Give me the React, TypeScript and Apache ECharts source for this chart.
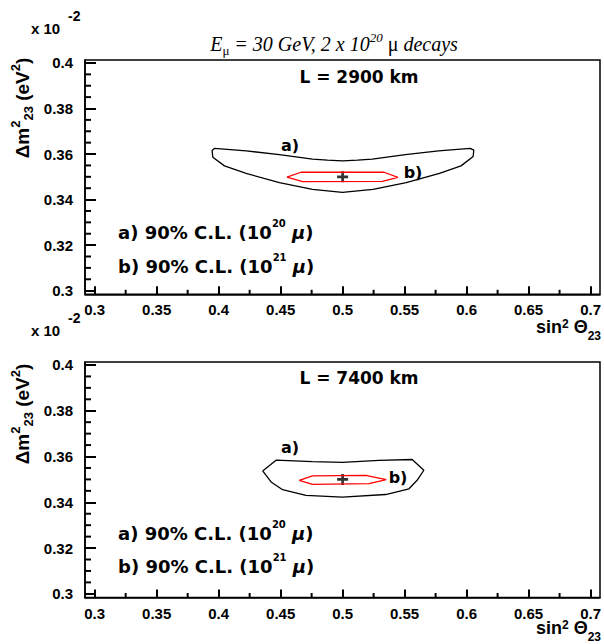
import React, { useEffect, useRef } from "react";
import * as echarts from "echarts";

// ---- data ----
const xMajorTicks = [0.3, 0.35, 0.4, 0.45, 0.5, 0.55, 0.6, 0.65, 0.7];
const xMinorTicks = [0.325, 0.375, 0.425, 0.475, 0.525, 0.575, 0.625, 0.675];
const yMajorTicks = [0.3, 0.32, 0.34, 0.36, 0.38, 0.4];
const yMinorTicks = [0.305, 0.31, 0.315, 0.325, 0.33, 0.335, 0.345, 0.35, 0.355, 0.365, 0.37, 0.375, 0.385, 0.39, 0.395];

const bestFit: [number, number][] = [[0.5, 0.35]];

// L = 2900 km
const contourA2900: [number, number][] = [
  [0.3967, 0.3625], [0.4222, 0.3614], [0.449, 0.3597], [0.4757, 0.3578], [0.4878, 0.3573],
  [0.4998, 0.357], [0.5119, 0.3573], [0.524, 0.3578], [0.5506, 0.3597], [0.5774, 0.3614],
  [0.6029, 0.3625], [0.6058, 0.3617], [0.6053, 0.3589], [0.5955, 0.3548], [0.5781, 0.3515],
  [0.5513, 0.3474], [0.5245, 0.3445], [0.4998, 0.3432], [0.4757, 0.3445], [0.449, 0.3474],
  [0.4222, 0.3515], [0.4047, 0.3548], [0.3953, 0.3586], [0.3947, 0.3616], [0.3967, 0.3625],
];
const contourB2900: [number, number][] = [
  [0.4551, 0.3499], [0.4664, 0.352], [0.5334, 0.352], [0.5446, 0.3498],
  [0.532, 0.348], [0.4677, 0.3479], [0.4551, 0.3499],
];

// L = 7400 km
const contourA7400: [number, number][] = [
  [0.4355, 0.3537], [0.4463, 0.3584], [0.4757, 0.3578], [0.4998, 0.3574], [0.5293, 0.3583],
  [0.5561, 0.3587], [0.5655, 0.354], [0.5601, 0.3496], [0.5535, 0.3459], [0.5347, 0.3434],
  [0.4998, 0.3423], [0.4704, 0.343], [0.4516, 0.3455], [0.4423, 0.3489], [0.4355, 0.3537],
];
const contourB7400: [number, number][] = [
  [0.465, 0.3496], [0.4757, 0.3515], [0.5186, 0.3518], [0.5352, 0.3499],
  [0.5213, 0.3482], [0.4757, 0.3478], [0.465, 0.3496],
];

const panelLabels = ["L = 2900 km", "L = 7400 km"];

// ---- layout ----
const X_MIN = 0.2922;
const X_MAX = 0.7076;
const Y_MIN = 0.2984;
const Y_MAX = 0.4013;
const GRIDS = [
  { left: 85, top: 60, width: 517, height: 234.3 },
  { left: 85, top: 362, width: 517, height: 235.5 },
];

const AX_FONT = "Liberation Sans, Arial, Helvetica, sans-serif";
const LEG_FONT = "DejaVu Sans, sans-serif";
const SERIF = "Liberation Serif, Times New Roman, serif";
const TICK = "#000";
const TICK_W = 2;

const fmt = (v: number) => String(Math.round(v * 1000) / 1000);

export default function App() {
  const ref = useRef<HTMLDivElement>(null);
  useEffect(() => {
    if (!ref.current) return;
    const chart = echarts.init(ref.current, null, { renderer: "svg" });

    const xAxes: any[] = [];
    const yAxes: any[] = [];
    GRIDS.forEach((_, gi) => {
      xAxes.push({
        type: "value", gridIndex: gi, min: X_MIN, max: X_MAX,
        axisLine: { show: true, onZero: false, lineStyle: { color: "#000", width: 1.5 } },
        axisTick: { show: true, inside: true, length: 8, customValues: xMajorTicks, lineStyle: { color: TICK, width: TICK_W } },
        axisLabel: {
          show: true, customValues: xMajorTicks, formatter: (v: number) => fmt(v), margin: 8,
          color: "#000", fontFamily: AX_FONT, fontWeight: "bold", fontSize: 15,
        },
        splitLine: { show: false },
      });
      yAxes.push({
        type: "value", gridIndex: gi, min: Y_MIN, max: Y_MAX,
        axisLine: { show: true, onZero: false, lineStyle: { color: "#000", width: 1.5 } },
        axisTick: { show: true, inside: true, length: 11, customValues: yMajorTicks, lineStyle: { color: TICK, width: TICK_W } },
        axisLabel: {
          show: true, customValues: yMajorTicks, formatter: (v: number) => fmt(v), margin: 12,
          color: "#000", fontFamily: AX_FONT, fontWeight: "bold", fontSize: 15,
        },
        splitLine: { show: false },
      });
    });

    const contourSeries = (data: [number, number][], gi: number, color: string) => ({
      type: "line", xAxisIndex: gi, yAxisIndex: gi, data,
      showSymbol: false, symbol: "none", smooth: false,
      lineStyle: { color, width: 1.3 }, silent: true,
    });
    const plusSeries = (gi: number) => ({
      type: "scatter", xAxisIndex: gi, yAxisIndex: gi, data: bestFit,
      symbol: "path://M3.8,0H6.2V3.8H10V6.2H6.2V10H3.8V6.2H0V3.8H3.8Z", symbolSize: 11,
      itemStyle: { color: "#000" }, silent: true,
    });
    // minor ticks drawn through the axes' own scales
    const minorX = (gi: number) => ({
      type: "custom", xAxisIndex: gi, yAxisIndex: gi, clip: false, silent: true,
      data: xMinorTicks.map((v) => [v, Y_MIN]),
      renderItem: (_p: any, api: any) => {
        const pt = api.coord([api.value(0), Y_MIN]);
        return { type: "line", shape: { x1: pt[0], y1: pt[1], x2: pt[0], y2: pt[1] - 4.5 }, style: { stroke: TICK, lineWidth: TICK_W } };
      },
    });
    const minorY = (gi: number) => ({
      type: "custom", xAxisIndex: gi, yAxisIndex: gi, clip: false, silent: true,
      data: yMinorTicks.map((v) => [X_MIN, v]),
      renderItem: (_p: any, api: any) => {
        const pt = api.coord([X_MIN, api.value(1)]);
        return { type: "line", shape: { x1: pt[0], y1: pt[1], x2: pt[0] + 6, y2: pt[1] }, style: { stroke: TICK, lineWidth: TICK_W } };
      },
    });

    const leg = (y: number, exp: string, letter: string) => ({
      type: "text", left: 118, top: y - 12,
      style: {
        text: `{n|${letter}) 90% C.L. (10}{s|${exp}}{n| }{m|μ}{n|)}`,
        rich: {
          n: { fontFamily: LEG_FONT, fontWeight: "bold", fontSize: 18, fill: "#000", lineHeight: 23, verticalAlign: "bottom" },
          s: { fontFamily: LEG_FONT, fontWeight: "bold", fontSize: 10, fill: "#000", lineHeight: 12, verticalAlign: "top" },
          m: { fontFamily: LEG_FONT, fontWeight: "bold", fontStyle: "italic", fontSize: 18, fill: "#000", lineHeight: 23, verticalAlign: "bottom" },
        },
      },
    });
    const simpleText = (x: number, y: number, text: string, size = 17) => ({
      type: "text", x, y,
      style: { text, fontFamily: LEG_FONT, fontWeight: "bold", fontSize: size, fill: "#000", align: "center", verticalAlign: "middle" },
    });
    const x10 = (y: number) => [
      { type: "text", x: 31, y: y, style: { text: "x 10", fontFamily: AX_FONT, fontWeight: "bold", fontSize: 15, fill: "#000", align: "left", verticalAlign: "middle" } },
      { type: "text", x: 68, y: y - 12, style: { text: "-2", fontFamily: AX_FONT, fontWeight: "bold", fontSize: 14, fill: "#000", align: "left", verticalAlign: "middle" } },
    ];
    const xName = (yBase: number) => ({
      type: "text", x: 601, y: yBase,
      style: {
        text: "{n|sin}{s|2}{n| Θ}{b|23}",
        align: "right", verticalAlign: "bottom",
        rich: {
          n: { fontFamily: AX_FONT, fontWeight: "bold", fontSize: 18, fill: "#000", lineHeight: 24, verticalAlign: "top" },
          s: { fontFamily: AX_FONT, fontWeight: "bold", fontSize: 12, fill: "#000", lineHeight: 12, verticalAlign: "top" },
          b: { fontFamily: AX_FONT, fontWeight: "bold", fontSize: 12, fill: "#000", lineHeight: 12, verticalAlign: "bottom" },
        },
      },
    });
    const yName = (cy: number) => ({
      type: "text", x: 22, y: cy, rotation: Math.PI / 2,
      style: {
        text: "{n|Δm}{s|2}{b|23}{n| (eV}{s|2}{n|)}",
        align: "center", verticalAlign: "middle",
        rich: {
          n: { fontFamily: AX_FONT, fontWeight: "bold", fontSize: 19, fill: "#000", lineHeight: 26, verticalAlign: "middle" },
          s: { fontFamily: AX_FONT, fontWeight: "bold", fontSize: 13, fill: "#000", lineHeight: 13, verticalAlign: "top" },
          b: { fontFamily: AX_FONT, fontWeight: "bold", fontSize: 13, fill: "#000", lineHeight: 13, verticalAlign: "bottom" },
        },
      },
    });
    const title = {
      type: "text", x: 334, y: 44,
      style: {
        text: "{i|E}{b|μ}{i| = 30 GeV, 2 x 10}{s|20}{u| μ }{i|decays}",
        align: "center", verticalAlign: "middle",
        rich: {
          i: { fontFamily: SERIF, fontStyle: "italic", fontSize: 20, fill: "#000", lineHeight: 26, verticalAlign: "middle" },
          u: { fontFamily: SERIF, fontSize: 20, fill: "#000", lineHeight: 26, verticalAlign: "middle" },
          s: { fontFamily: SERIF, fontStyle: "italic", fontSize: 13, fill: "#000", lineHeight: 13, verticalAlign: "top" },
          b: { fontFamily: SERIF, fontSize: 13, fill: "#000", lineHeight: 13, verticalAlign: "bottom" },
        },
      },
    };

    const option: any = {
      animation: false,
      grid: GRIDS.map((g) => ({ ...g, show: true, borderColor: "#000", borderWidth: 1.5 })),
      xAxis: xAxes,
      yAxis: yAxes,
      series: [
        contourSeries(contourA2900, 0, "#000"),
        contourSeries(contourB2900, 0, "#ff0000"),
        plusSeries(0),
        minorX(0),
        minorY(0),
        contourSeries(contourA7400, 1, "#000"),
        contourSeries(contourB7400, 1, "#ff0000"),
        plusSeries(1),
        minorX(1),
        minorY(1),
      ],
      graphic: [
        title,
        ...x10(28),
        ...x10(330),
        simpleText(359, 77, panelLabels[0]),
        simpleText(359, 378, panelLabels[1]),
        simpleText(290, 145, "a)", 16),
        simpleText(413, 172, "b)", 16),
        simpleText(290, 447, "a)", 16),
        simpleText(398, 477, "b)", 16),
        leg(230, "20", "a"),
        leg(264, "21", "b"),
        leg(531, "20", "a"),
        leg(564, "21", "b"),
        xName(342),
        xName(643),
        yName(108),
        yName(414),
      ],
    };
    chart.setOption(option);
    return () => chart.dispose();
  }, []);
  return <div ref={ref} style={{ position: "fixed", left: 0, top: 0, width: 604, height: 644, background: "#fff" }} />;
}
